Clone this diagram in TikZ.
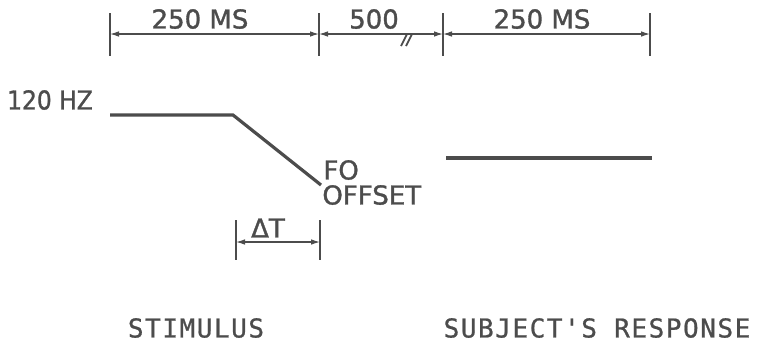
\documentclass[tikz,border=0pt]{standalone}
\usepackage{fontspec}
\setmainfont{DejaVu Sans}
\newfontfamily\lblfont[FakeBold=1.3]{DejaVu Sans}
\newfontfamily\captfont[LetterSpace=6,FakeBold=0.8]{DejaVu Sans Mono}
\usetikzlibrary{arrows.meta}
\definecolor{ink}{gray}{0.3}
\tikzset{
  dimline/.style={ink,line width=0.6pt,{Latex[length=4.5pt,width=2.8pt]}-{Latex[length=4.5pt,width=2.8pt]}},
  tickmark/.style={ink,line width=0.9pt},
  pitch/.style={ink,line width=1.6pt},
  lbl/.style={text=ink,inner sep=0pt,font=\lblfont\fontsize{13}{15}\selectfont},
  capt/.style={text=ink,inner sep=0pt,font=\captfont\fontsize{13}{15}\selectfont},
}
\begin{document}
\begin{tikzpicture}[x=0.5pt,y=-0.5pt]
  \useasboundingbox (0,0) rectangle (759,345);
  % time scale
  \foreach \n/\x in {a/110,b/319,c/443,d/650}{
    \coordinate (\n top) at (\x,13);
    \coordinate (\n bot) at (\x,56);
    \coordinate (\n) at (\x,34);
    \draw[tickmark] (\n top) -- (\n bot);
  }
  \draw[dimline] (a) -- (b);
  \draw[dimline] (b) -- (c);
  \draw[dimline] (c) -- (d);
  \draw[ink,line width=0.9pt] (401,46) -- (407,34) (406,46) -- (412,34);
  \node[lbl] (stimdur) at (200,19) {250 MS};
  \node[lbl] (gap) at (374,19) {500};
  \node[lbl] (respdur) at (542,19) {250 MS};
  % stimulus contour
  \node[lbl] (hz) at (50,100) {\scalebox{0.9}[1]{120 HZ}};
  \coordinate (p0) at (110,115);
  \coordinate (p1) at (233,115);
  \coordinate (p2) at (321,185);
  \draw[pitch] (p0) -- (p1) -- (p2);
  \node[lbl,anchor=west] (fo) at (323,170) {FO};
  \node[lbl,anchor=west] (offset) at (322,195) {OFFSET};
  % delta t
  \coordinate (dt1top) at (236,220);
  \coordinate (dt1bot) at (236,260);
  \coordinate (dt2top) at (320,220);
  \coordinate (dt2bot) at (320,260);
  \coordinate (dt1) at (236,242);
  \coordinate (dt2) at (320,242);
  \draw[tickmark] (dt1top) -- (dt1bot);
  \draw[tickmark] (dt2top) -- (dt2bot);
  \draw[dimline] (dt1) -- (dt2);
  \node[lbl] (dt) at (268,228) {ΔT};
  % response
  \coordinate (r0) at (446,158);
  \coordinate (r1) at (652,158);
  \draw[pitch] (r0) -- (r1);
  % captions
  \node[capt] (stim) at (196,328) {STIMULUS};
  \node[capt] (resp) at (597,328) {SUBJECT'S RESPONSE};
\end{tikzpicture}
\end{document}
